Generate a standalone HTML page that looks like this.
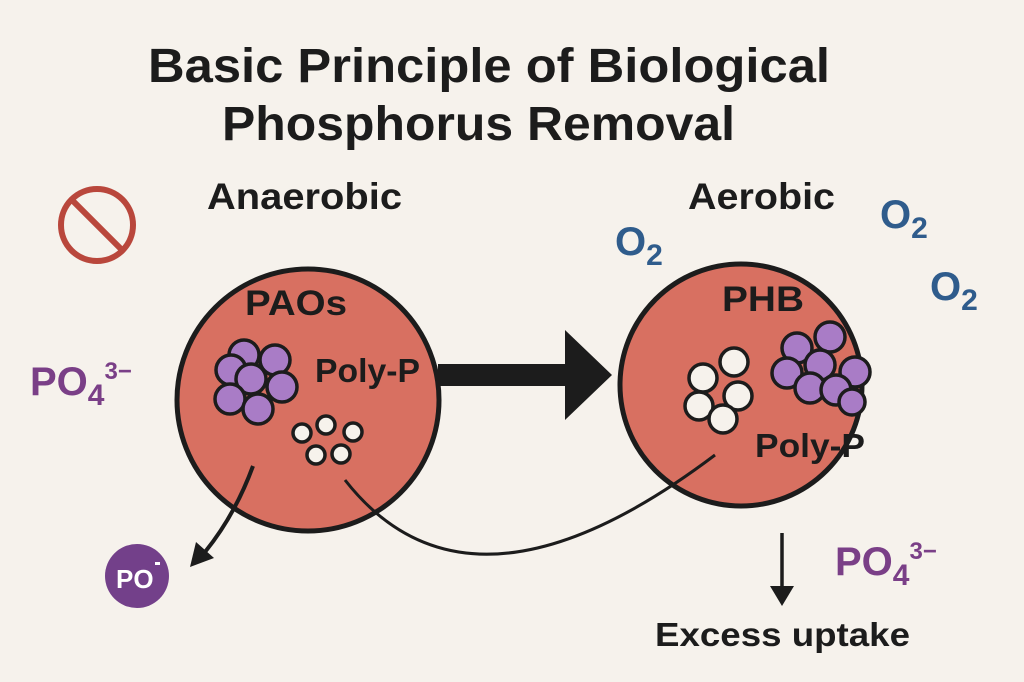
<html><body style="margin:0;width:1024px;height:682px;background:#f6f2ec;overflow:hidden">
<svg width="1024" height="682" xmlns="http://www.w3.org/2000/svg" font-family="Liberation Sans, sans-serif" font-weight="bold">
<text x="148" y="82" font-size="48" fill="#1c1c1c" textLength="682" lengthAdjust="spacingAndGlyphs">Basic Principle of Biological</text>
<text x="222" y="140" font-size="48" fill="#1c1c1c" textLength="513" lengthAdjust="spacingAndGlyphs">Phosphorus Removal</text>
<circle cx="97" cy="225" r="36" fill="none" stroke="#b9473c" stroke-width="6"/>
<line x1="72" y1="200" x2="122" y2="250" stroke="#b9473c" stroke-width="6"/>
<text x="207" y="209" font-size="37" fill="#1c1c1c" textLength="195" lengthAdjust="spacingAndGlyphs">Anaerobic</text>
<text x="688" y="209" font-size="37" fill="#1c1c1c" textLength="147" lengthAdjust="spacingAndGlyphs">Aerobic</text>
<text x="615" y="255" font-size="40" fill="#2f5c8c">O<tspan font-size="30" dy="10">2</tspan></text>
<text x="880" y="228" font-size="40" fill="#2f5c8c">O<tspan font-size="30" dy="10">2</tspan></text>
<text x="930" y="300" font-size="40" fill="#2f5c8c">O<tspan font-size="30" dy="10">2</tspan></text>
<text x="30" y="395" font-size="40" fill="#7a3f87">PO<tspan font-size="30" dy="10">4</tspan><tspan font-size="24" dy="-26">3−</tspan></text>
<text x="835" y="575" font-size="40" fill="#7a3f87">PO<tspan font-size="30" dy="10">4</tspan><tspan font-size="24" dy="-26">3−</tspan></text>
<circle cx="308" cy="400" r="131" fill="#d87061" stroke="#1c1c1c" stroke-width="5"/>
<circle cx="741" cy="385" r="121" fill="#d87061" stroke="#1c1c1c" stroke-width="5"/>
<path d="M345 480 Q 470 640 715 455" fill="none" stroke="#1c1c1c" stroke-width="3"/>
<rect x="438" y="364" width="130" height="22" fill="#1c1c1c"/>
<polygon points="565,330 612,375 565,420" fill="#1c1c1c"/>
<text x="245" y="315" font-size="35" fill="#1c1c1c" textLength="102" lengthAdjust="spacingAndGlyphs">PAOs</text>
<text x="315" y="382" font-size="33" fill="#1c1c1c" textLength="105" lengthAdjust="spacingAndGlyphs">Poly-P</text>
<text x="722" y="311" font-size="35" fill="#1c1c1c" textLength="82" lengthAdjust="spacingAndGlyphs">PHB</text>
<text x="755" y="457" font-size="33" fill="#1c1c1c" textLength="110" lengthAdjust="spacingAndGlyphs">Poly-P</text>
<g fill="#a97cc6" stroke="#1c1c1c" stroke-width="3.5">
<circle cx="244" cy="355" r="15"/><circle cx="275" cy="360" r="15"/><circle cx="231" cy="370" r="15"/>
<circle cx="251" cy="379" r="15"/><circle cx="282" cy="387" r="15"/><circle cx="230" cy="399" r="15"/><circle cx="258" cy="409" r="15"/>
<circle cx="797" cy="348" r="15"/><circle cx="830" cy="337" r="15"/><circle cx="820" cy="365" r="15"/><circle cx="787" cy="373" r="15"/>
<circle cx="855" cy="372" r="15"/><circle cx="810" cy="388" r="15"/><circle cx="836" cy="390" r="15"/><circle cx="852" cy="402" r="13"/>
</g>
<g fill="#f6f2ec" stroke="#1c1c1c" stroke-width="3.5">
<circle cx="302" cy="433" r="9"/><circle cx="326" cy="425" r="9"/><circle cx="353" cy="432" r="9"/><circle cx="316" cy="455" r="9"/><circle cx="341" cy="454" r="9"/>
<circle cx="703" cy="378" r="14"/><circle cx="734" cy="362" r="14"/><circle cx="699" cy="406" r="14"/><circle cx="738" cy="396" r="14"/><circle cx="723" cy="419" r="14"/>
</g>
<path d="M253 466 Q 235 515 205 552" fill="none" stroke="#1c1c1c" stroke-width="4"/>
<polygon points="190,567 196,542 214,558" fill="#1c1c1c"/>
<line x1="782" y1="533" x2="782" y2="590" stroke="#1c1c1c" stroke-width="3.5"/>
<polygon points="770,586 794,586 782,606" fill="#1c1c1c"/>
<circle cx="137" cy="576" r="32" fill="#73408a"/>
<text x="116" y="588" font-size="26" fill="#fff">PO</text>
<rect x="155" y="562" width="5" height="3" fill="#fff"/>
<text x="655" y="646" font-size="33" fill="#1c1c1c" textLength="255" lengthAdjust="spacingAndGlyphs">Excess uptake</text>
</svg>
</body></html>
